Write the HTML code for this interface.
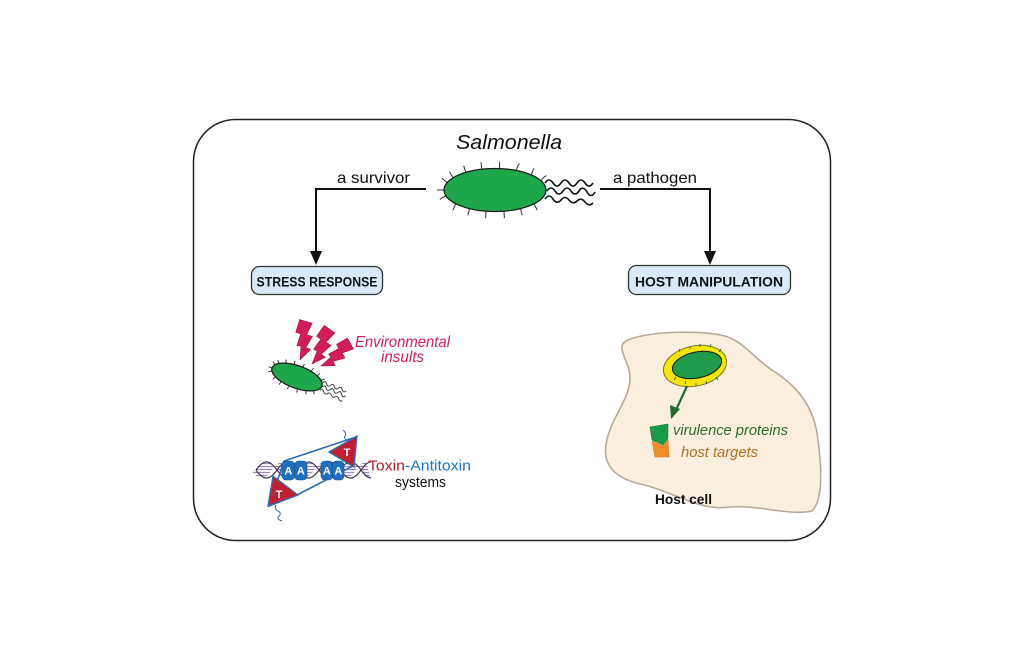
<!DOCTYPE html>
<html>
<head>
<meta charset="utf-8">
<style>
  html,body{margin:0;padding:0;background:#fff;}
  body{width:1024px;height:668px;overflow:hidden;}
  svg{display:block;}
  text{font-family:"Liberation Sans",sans-serif;}
</style>
</head>
<body>
<svg width="1024" height="668" viewBox="0 0 1024 668" xmlns="http://www.w3.org/2000/svg">
  <defs>
    <pattern id="stripes" width="4" height="3" patternUnits="userSpaceOnUse">
      <rect width="4" height="3" fill="#f3eef8"/>
      <line x1="0" y1="1.5" x2="4" y2="1.5" stroke="#9d86c2" stroke-width="1"/>
    </pattern>
    <g id="bact">
      <g stroke="#333" stroke-width="1" fill="none">
        <path d="M-47.9,-7.4 L-53.2,-12" vector-effect="non-scaling-stroke"/>
        <path d="M-41.8,-12.3 Q-44,-15 -45.4,-18.3" vector-effect="non-scaling-stroke"/>
        <path d="M-29.3,-17.6 L-31.3,-24.3" vector-effect="non-scaling-stroke"/>
        <path d="M-13.2,-20.8 L-14,-27.8" vector-effect="non-scaling-stroke"/>
        <path d="M4.4,-21.4 L4.7,-28.4" vector-effect="non-scaling-stroke"/>
        <path d="M21.6,-19.5 Q22,-24 24.5,-26.4" vector-effect="non-scaling-stroke"/>
        <path d="M36.1,-15.2 L38.8,-21.6" vector-effect="non-scaling-stroke"/>
        <path d="M46.2,-9.1 Q48,-13 51.5,-14.3" vector-effect="non-scaling-stroke"/>
        <path d="M39.1,13.8 L42.2,20.1" vector-effect="non-scaling-stroke"/>
        <path d="M25.5,18.6 L27.2,25.4" vector-effect="non-scaling-stroke"/>
        <path d="M8.9,21.2 L9.4,28.2" vector-effect="non-scaling-stroke"/>
        <path d="M-8.9,21.2 L-9.4,28.2" vector-effect="non-scaling-stroke"/>
        <path d="M-25.5,18.6 L-27.2,25.4" vector-effect="non-scaling-stroke"/>
        <path d="M-39.1,13.8 L-42.2,20.1" vector-effect="non-scaling-stroke"/>
        <path d="M-49.3,5.6 L-55.2,9.4" vector-effect="non-scaling-stroke"/>
        <path d="M-51,0 L-58,0" vector-effect="non-scaling-stroke"/>
      </g>
      <g fill="none">
        <path d="M50,-7 q4,-6 8,0 t8,0 t8,0 t8,0 t8,0 t8,0" vector-effect="non-scaling-stroke"/>
        <path d="M52,1 q4,-6 8,0 t8,0 t8,0 t8,0 t8,1 t8,0" vector-effect="non-scaling-stroke"/>
        <path d="M50,9 q4,-6 8,0 t8,1 t8,0 t8,1 t8,1 t8,1" vector-effect="non-scaling-stroke"/>
      </g>
      <ellipse cx="0" cy="0" rx="51" ry="21.5" fill="#1ea64b" stroke="#1a1a1a" stroke-width="1.2" vector-effect="non-scaling-stroke"/>
    </g>
    <polygon id="bolt" points="-6,-40 7,-38 3,-26 9,-25 4,-13 9,-12 0,0 -1,-14 -5,-14 -3,-26 -8,-27"/>
  </defs>

  <!-- main frame -->
  <rect x="193.5" y="119.5" width="637" height="421" rx="42" ry="42" fill="#fff" stroke="#222" stroke-width="1.5"/>

  <!-- title -->
  <text x="456" y="149" font-size="20" font-style="italic" fill="#111" textLength="106" lengthAdjust="spacingAndGlyphs">Salmonella</text>

  <!-- connectors -->
  <path d="M426,189 L316,189 L316,252" fill="none" stroke="#111" stroke-width="2"/>
  <polygon points="310,251 322,251 316,265" fill="#111"/>
  <path d="M600,189 L710,189 L710,252" fill="none" stroke="#111" stroke-width="2"/>
  <polygon points="704,251 716,251 710,265" fill="#111"/>
  <text x="337" y="183" font-size="16" fill="#111" textLength="73" lengthAdjust="spacingAndGlyphs">a survivor</text>
  <text x="613" y="183" font-size="16" fill="#111" textLength="84" lengthAdjust="spacingAndGlyphs">a pathogen</text>

  <!-- main bacterium -->
  <use href="#bact" transform="translate(495,190)" stroke="#111" stroke-width="1.6"/>

  <!-- boxes -->
  <rect x="251.5" y="266.5" width="131" height="28" rx="8" fill="#d9e9f7" stroke="#333" stroke-width="1.3"/>
  <text x="256.5" y="286.5" font-size="14" font-weight="bold" fill="#111" textLength="121" lengthAdjust="spacingAndGlyphs">STRESS RESPONSE</text>
  <rect x="628.5" y="265.5" width="162" height="29" rx="8" fill="#d9e9f7" stroke="#333" stroke-width="1.3"/>
  <text x="635" y="286.5" font-size="14" font-weight="bold" fill="#111" textLength="148" lengthAdjust="spacingAndGlyphs">HOST MANIPULATION</text>

  <!-- environmental insults -->
  <g fill="#d41c5a" stroke="#9a1040" stroke-width="0.6">
    <use href="#bolt" transform="translate(300,360) rotate(8)"/>
    <use href="#bolt" transform="translate(312,364) rotate(26)"/>
    <use href="#bolt" transform="translate(321,366) rotate(52) scale(0.95)"/>
  </g>
  <use href="#bact" transform="translate(297,377) rotate(20) scale(0.52)" stroke="#333" stroke-width="0.9"/>
  <text x="355" y="347" font-size="16" font-style="italic" fill="#d6205c" textLength="95" lengthAdjust="spacingAndGlyphs">Environmental</text>
  <text x="381" y="362" font-size="16" font-style="italic" fill="#d6205c" textLength="43" lengthAdjust="spacingAndGlyphs">insults</text>

  <!-- toxin antitoxin -->
  <path d="M256,470 c7.6,-10.7 13.4,-10.7 21,0 c7.6,10.7 13.4,10.7 21,0 c7.6,-10.7 13.4,-10.7 21,0 c7.6,10.7 13.4,10.7 21,0 c7.6,-10.7 13.4,-10.7 21,0 c3.6,5 6.5,8 10,8
           L366,462 c-3.5,0 -6.4,3 -10,8 c-7.6,10.7 -13.4,10.7 -21,0 c-7.6,-10.7 -13.4,-10.7 -21,0 c-7.6,10.7 -13.4,10.7 -21,0 c-7.6,-10.7 -13.4,-10.7 -21,0 c-7.6,10.7 -13.4,10.7 -21,0 Z"
        fill="url(#stripes)" stroke="none"/>
  <g fill="none" stroke="#3a2f4a" stroke-width="1.1">
    <path d="M256,470 c7.6,-10.7 13.4,-10.7 21,0 c7.6,10.7 13.4,10.7 21,0 c7.6,-10.7 13.4,-10.7 21,0 c7.6,10.7 13.4,10.7 21,0 c7.6,-10.7 13.4,-10.7 21,0 c3.6,5 6.5,8 10,8"/>
    <path d="M256,470 c7.6,10.7 13.4,10.7 21,0 c7.6,-10.7 13.4,-10.7 21,0 c7.6,10.7 13.4,10.7 21,0 c7.6,-10.7 13.4,-10.7 21,0 c7.6,10.7 13.4,10.7 21,0 c3.6,-5 6.5,-8 10,-8"/>
  </g>
  <!-- wavy thin lines -->
  <path d="M343,430 q4,3 2,6 t4,5 t3,4" fill="none" stroke="#2d6db5" stroke-width="1"/>
  <path d="M276,505 q-2,4 2,6 t1,5 t3,5" fill="none" stroke="#2d6db5" stroke-width="1"/>
  <!-- frame -->
  <polygon points="269,506 284,461 356,437 353,466 297,495" fill="none" stroke="#2d6db5" stroke-width="1.6"/>
  <!-- AA blobs -->
  <g fill="#1f6fc0" stroke="#174f8a" stroke-width="0.6">
    <rect x="282" y="461" width="12.5" height="19" rx="4"/>
    <rect x="294.5" y="461" width="12.5" height="19" rx="4"/>
    <rect x="321" y="461" width="11.5" height="19" rx="4"/>
    <rect x="332.5" y="461" width="11.5" height="19" rx="4"/>
  </g>
  <g font-size="11" font-weight="bold" fill="#fff" text-anchor="middle">
    <text x="288.3" y="474.5">A</text>
    <text x="300.8" y="474.5">A</text>
    <text x="326.8" y="474.5">A</text>
    <text x="338.3" y="474.5">A</text>
  </g>
  <!-- T triangles -->
  <polygon points="273,476 268,506 298,495" fill="#c21f30" stroke="#2d6db5" stroke-width="1.3"/>
  <polygon points="329,452 357,436 354,467" fill="#c21f30" stroke="#2d6db5" stroke-width="1.3"/>
  <text x="279" y="498" font-size="11" font-weight="bold" fill="#fff" text-anchor="middle">T</text>
  <text x="347" y="456" font-size="11" font-weight="bold" fill="#fff" text-anchor="middle">T</text>
  <text x="368" y="470.5" font-size="15" textLength="103" lengthAdjust="spacingAndGlyphs"><tspan fill="#b71c2c">Toxin</tspan><tspan fill="#1976c6">-Antitoxin</tspan></text>
  <text x="395" y="487" font-size="15" fill="#111" textLength="51" lengthAdjust="spacingAndGlyphs">systems</text>

  <!-- host cell -->
  <path d="M628,340 C650,331 700,330 725,336 C745,342 755,360 775,372 C800,388 815,410 818,440 C822,470 823,500 812,511 C790,516 760,505 730,507 C700,512 670,490 640,484 C615,478 603,465 606,445 C609,420 630,400 630,378 C630,360 613,346 628,340 Z"
        fill="#faeedf" stroke="#b8a898" stroke-width="1.6"/>
  <ellipse cx="695" cy="366" rx="32" ry="20" transform="rotate(-12 695 366)" fill="#f3e600" stroke="#7d7330" stroke-width="1"/>
  <ellipse cx="697" cy="365" rx="25" ry="13" transform="rotate(-12 697 365)" fill="#1e9a48" stroke="#1a1a1a" stroke-width="1"/>
  <g stroke="#333" stroke-width="0.7">
    <line x1="680" y1="352" x2="679" y2="349"/><line x1="690" y1="349" x2="690" y2="346"/><line x1="700" y1="347" x2="700" y2="344"/>
    <line x1="710" y1="347" x2="711" y2="344"/><line x1="719" y1="352" x2="721" y2="349"/>
    <line x1="676" y1="377" x2="674" y2="380"/><line x1="686" y1="381" x2="685" y2="384"/><line x1="696" y1="383" x2="696" y2="386"/>
    <line x1="706" y1="381" x2="707" y2="384"/><line x1="716" y1="377" x2="718" y2="380"/>
  </g>
  <line x1="687" y1="386" x2="676" y2="410" stroke="#1f6b34" stroke-width="2.2"/>
  <polygon points="671,419 670,405 680,409" fill="#1f6b34"/>
  <polygon points="652,441 663,446 668,439 669,457 655,457" fill="#f28c28" stroke="#d0741a" stroke-width="0.5"/>
  <polygon points="650,427 668,424 668,438 663,445 652,440" fill="#1a9a48" stroke="#0f6a30" stroke-width="0.5"/>
  <text x="673" y="435" font-size="15" font-style="italic" fill="#2b6e2e" textLength="115" lengthAdjust="spacingAndGlyphs">virulence proteins</text>
  <text x="681" y="457" font-size="15" font-style="italic" fill="#b5701e" textLength="77" lengthAdjust="spacingAndGlyphs">host targets</text>
  <text x="655" y="504" font-size="14" font-weight="bold" fill="#111" textLength="57" lengthAdjust="spacingAndGlyphs">Host cell</text>
</svg>
</body>
</html>
